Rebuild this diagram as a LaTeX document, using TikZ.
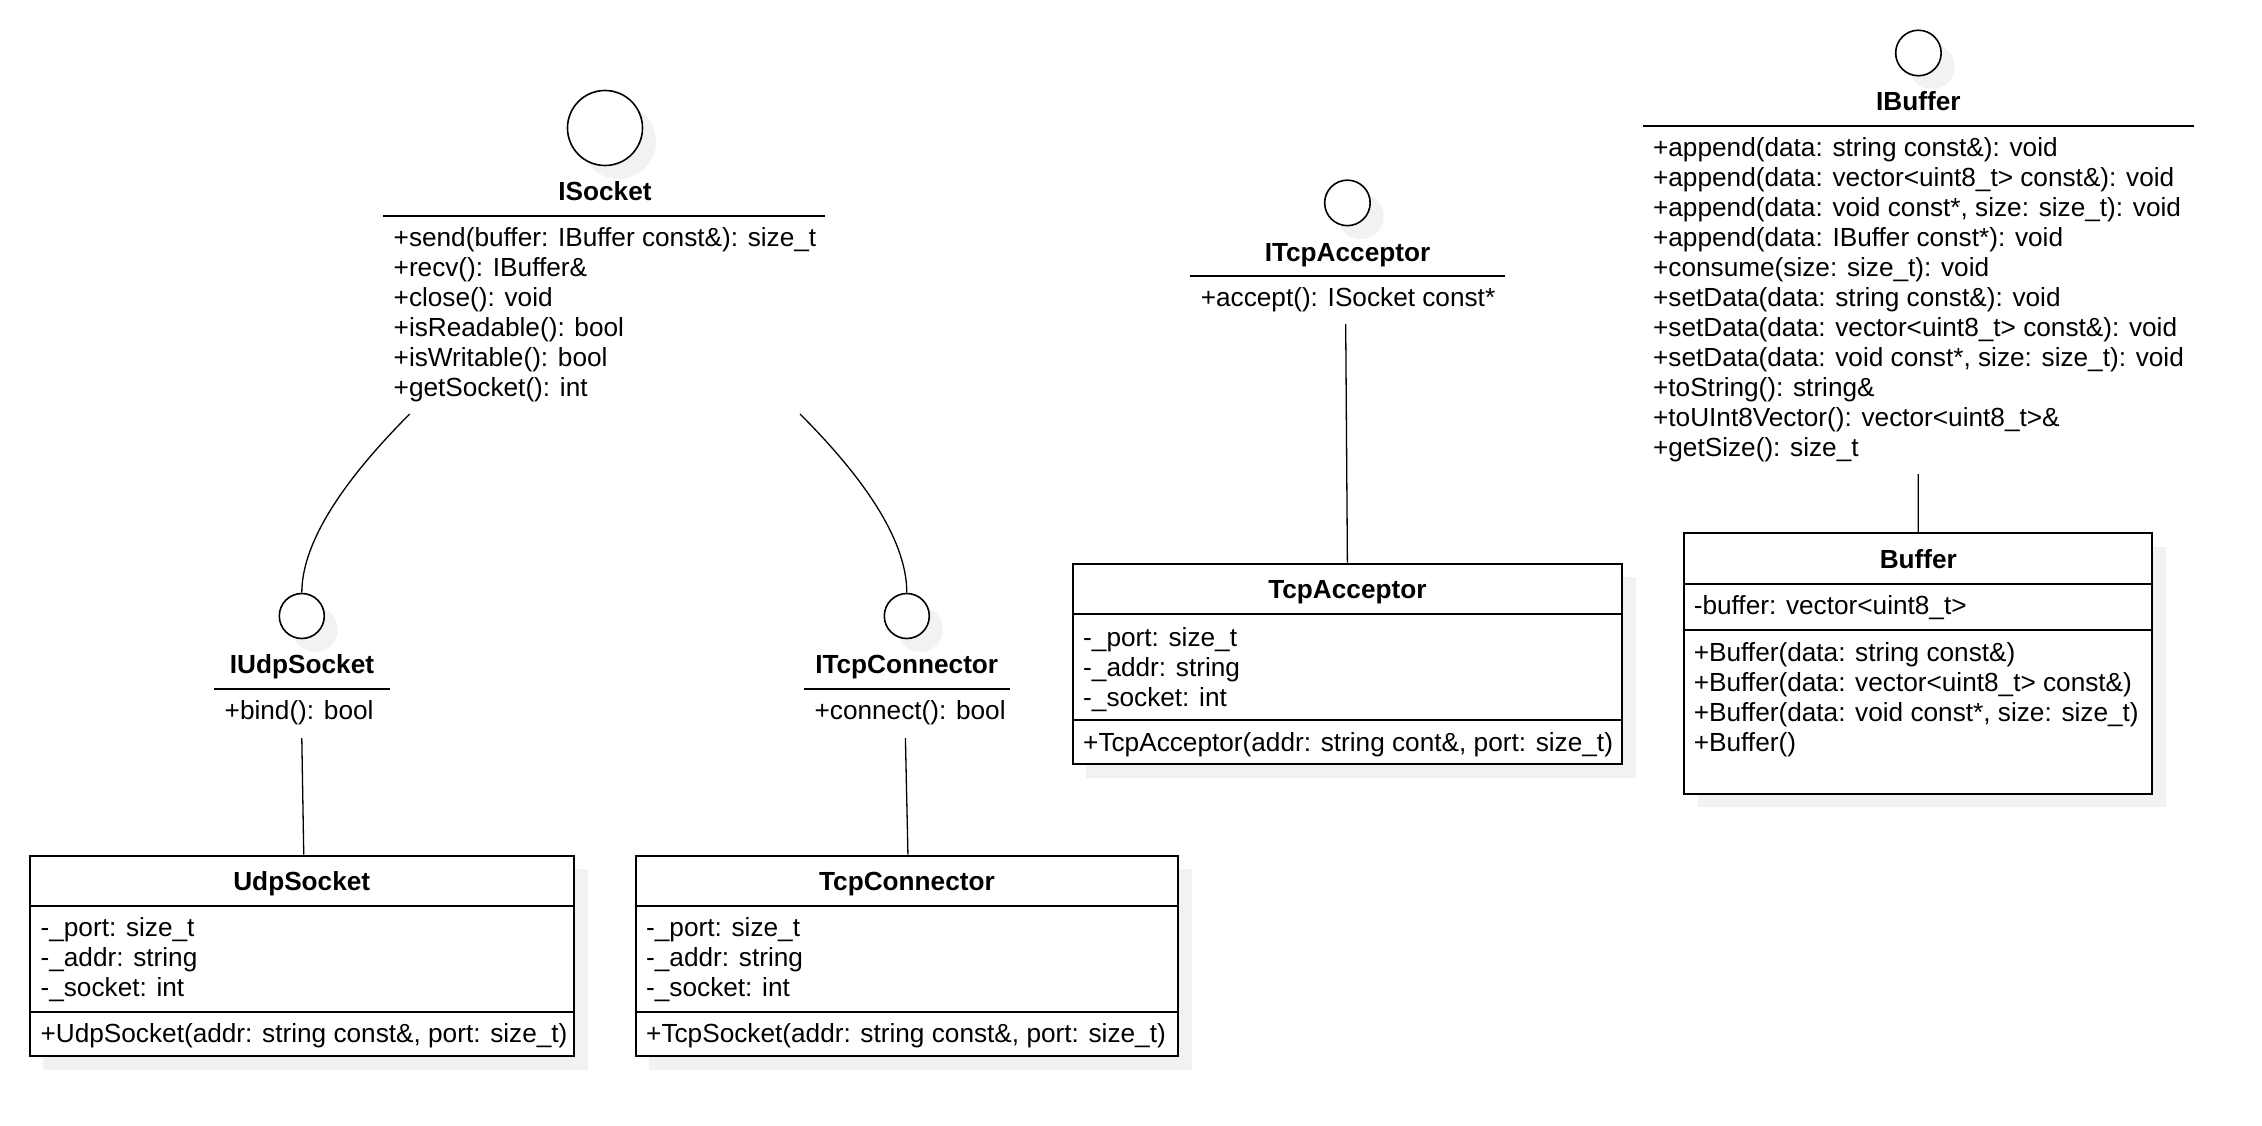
\documentclass[tikz,border=0pt]{standalone}
\usepackage{fontspec}
\setmainfont{Liberation Sans}
\usetikzlibrary{shadows}
\definecolor{shadowc}{RGB}{242,242,242}
\tikzset{
  txt/.style={font=\fontsize{26.2}{30}\selectfont, inner sep=0pt, anchor=base west},
  ttl/.style={font=\fontsize{26.2}{30}\selectfont\bfseries, inner sep=0pt, anchor=base},
  softshadow/.style={drop shadow={shadow xshift=13.5pt, shadow yshift=-13.5pt, fill=shadowc, opacity=1, draw=none}},
  ifcircle/.style={circle, draw, line width=1.6pt, fill=white, inner sep=0pt, softshadow},
  classbox/.style={rectangle, draw, line width=2pt, fill=white, inner sep=0pt, softshadow},
  sepline/.style={line width=2pt},
  conn/.style={line width=1.3pt},
}
\newcommand\memberlist[4]{%
  \foreach \t [count=\i] in {#4} {\node[txt] (#1\i) at (#2, {#3+(\i-1)*29.97}) {\t};}}
\begin{document}
\begin{tikzpicture}[x=1pt, y=-1pt]
\fill[white] (0,0) rectangle (2262,1126);
\useasboundingbox (0,0) rectangle (2262,1126);

% ---------- ISocket ----------
\node[ifcircle, minimum size=75pt] (isockC) at (605,128) {};
\node[ttl] (isockT) at (605,201) {ISocket};
\draw[sepline] (383,216) -- (825,216);
\memberlist{isockm}{393.5}{246.5}{{+send(buffer: IBuffer const\&): size\_t},{+recv(): IBuffer\&},{+close(): void},{+isReadable(): bool},{+isWritable(): bool},{+getSocket(): int}}
\coordinate (isockL) at (409.7,414);
\coordinate (isockR) at (800,414);

% ---------- IUdpSocket ----------
\node[ifcircle, minimum size=45pt] (iudpC) at (301.8,616) {};
\node[ttl] (iudpT) at (302,673.5) {IUdpSocket};
\draw[sepline] (214,688.7) -- (390,688.7);
\node[txt] (iudpm1) at (224.5,719.7) {+bind(): bool};
\coordinate (iudpE) at (301.8,738);

% ---------- ITcpConnector ----------
\node[ifcircle, minimum size=45pt] (itcC) at (906.8,616) {};
\node[ttl] (itcT) at (906.7,673.5) {ITcpConnector};
\draw[sepline] (804,688.7) -- (1010,688.7);
\node[txt] (itcm1) at (814.4,719.7) {+connect(): bool};
\coordinate (itcE) at (905.4,738);

% ---------- ITcpAcceptor ----------
\node[ifcircle, minimum size=45.5pt] (iaccC) at (1347.4,202.9) {};
\node[ttl] (iaccT) at (1347.5,261.3) {ITcpAcceptor};
\draw[sepline] (1189.8,275.8) -- (1504.9,275.8);
\node[txt] (iaccm1) at (1200.6,306.8) {+accept(): ISocket const*};
\coordinate (iaccE) at (1345.7,324.2);

% ---------- IBuffer ----------
\node[ifcircle, minimum size=45.5pt] (ibufC) at (1918.4,53) {};
\node[ttl] (ibufT) at (1918.3,110.5) {IBuffer};
\draw[sepline] (1642.8,125.7) -- (2193.7,125.7);
\memberlist{ibufm}{1652.9}{156.7}{{+append(data: string const\&): void},{+append(data: vector<uint8\_t> const\&): void},{+append(data: void const*, size: size\_t): void},{+append(data: IBuffer const*): void},{+consume(size: size\_t): void},{+setData(data: string const\&): void},{+setData(data: vector<uint8\_t> const\&): void},{+setData(data: void const*, size: size\_t): void},{+toString(): string\&},{+toUInt8Vector(): vector<uint8\_t>\&},{+getSize(): size\_t}}
\coordinate (ibufE) at (1918.2,474);

% ---------- UdpSocket ----------
\node[classbox, minimum width=544.5pt, minimum height=200.4pt] (udp) at (301.75,955.8) {};
\draw[sepline] (29.5,906) -- (574,906);
\draw[sepline] (29.5,1011.8) -- (574,1011.8);
\node[ttl] (udpT) at (301.75,890.8) {UdpSocket};
\memberlist{udpa}{40.4}{936.9}{{-\_port: size\_t},{-\_addr: string},{-\_socket: int}}
\node[txt] (udpm1) at (40.4,1042.9) {+UdpSocket(addr: string const\&, port: size\_t)};

% ---------- TcpConnector ----------
\node[classbox, minimum width=542.5pt, minimum height=200.4pt] (tcpc) at (906.95,955.8) {};
\draw[sepline] (635.7,906) -- (1178.2,906);
\draw[sepline] (635.7,1011.8) -- (1178.2,1011.8);
\node[ttl] (tcpcT) at (906.95,890.8) {TcpConnector};
\memberlist{tcpca}{646}{936.9}{{-\_port: size\_t},{-\_addr: string},{-\_socket: int}}
\node[txt] (tcpcm1) at (646,1042.9) {+TcpSocket(addr: string const\&, port: size\_t)};

% ---------- TcpAcceptor ----------
\node[classbox, minimum width=549.8pt, minimum height=200.3pt] (tcpa) at (1347.4,663.85) {};
\draw[sepline] (1072.5,614) -- (1622.3,614);
\draw[sepline] (1072.5,720) -- (1622.3,720);
\node[ttl] (tcpaT) at (1347.4,598.9) {TcpAcceptor};
\memberlist{tcpaa}{1083}{646.1}{{-\_port: size\_t},{-\_addr: string},{-\_socket: int}}
\node[txt] (tcpam1) at (1083,751) {+TcpAcceptor(addr: string cont\&, port: size\_t)};

% ---------- Buffer ----------
\node[classbox, minimum width=467.8pt, minimum height=260.7pt] (buf) at (1918.3,663.55) {};
\draw[sepline] (1684.4,583.8) -- (2152.2,583.8);
\draw[sepline] (1684.4,629.8) -- (2152.2,629.8);
\node[ttl] (bufT) at (1918.3,568.4) {Buffer};
\node[txt] (bufa1) at (1693.6,614.9) {-buffer: vector<uint8\_t>};
\memberlist{bufm}{1693.6}{661.2}{{+Buffer(data: string const\&)},{+Buffer(data: vector<uint8\_t> const\&)},{+Buffer(data: void const*, size: size\_t)},{+Buffer()}}

% ---------- connectors ----------
\draw[conn] (isockL) .. controls (337.9,486) and (301.9,545.7) .. (iudpC.north);
\draw[conn] (isockR) .. controls (870.7,484.7) and (906.8,544.3) .. (itcC.north);
\draw[conn] (iudpE) -- ([xshift=2pt]udp.north);
\draw[conn] (itcE) -- ([xshift=1pt]tcpc.north);
\draw[conn] (iaccE) -- (tcpa.north);
\draw[conn] (ibufE) -- (buf.north);
\end{tikzpicture}
\end{document}
